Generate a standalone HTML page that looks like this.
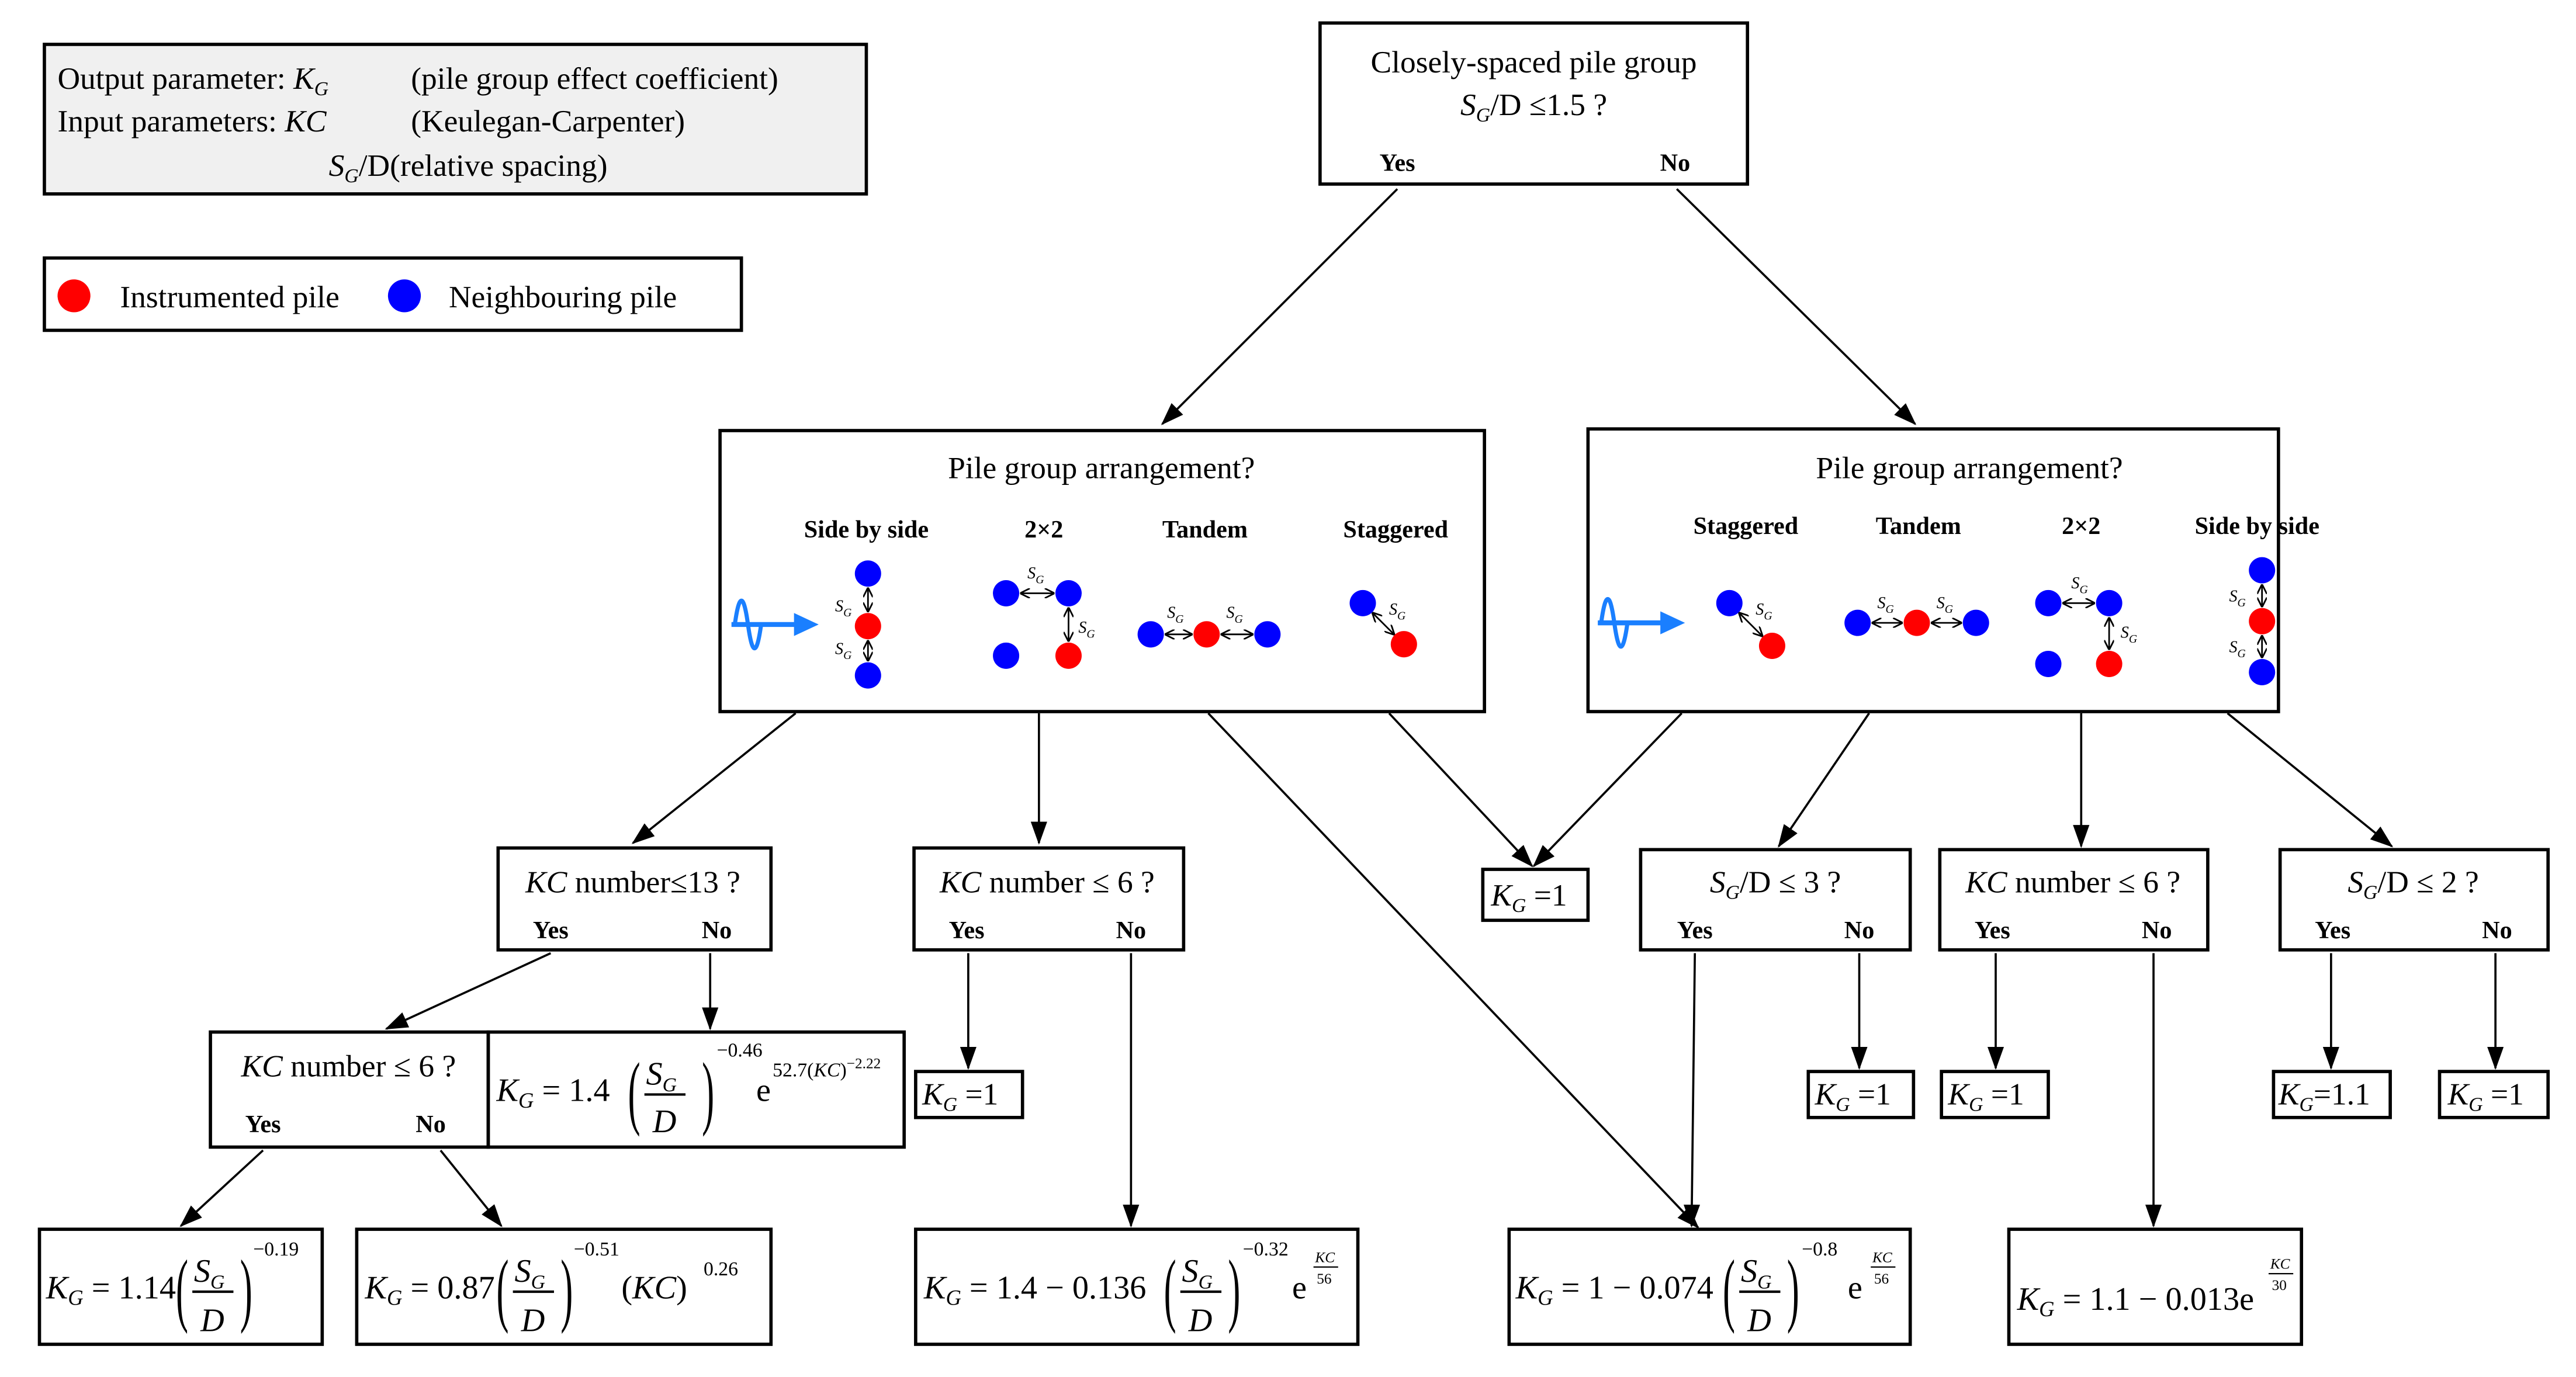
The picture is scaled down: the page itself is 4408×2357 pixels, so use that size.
<!DOCTYPE html>
<html><head><meta charset="utf-8"><style>
html,body{margin:0;padding:0;background:#fff}
svg{display:block}
svg text{font-family:"Liberation Serif","DejaVu Serif",serif;fill:#000}
.b{font-weight:bold}
.i{font-style:italic}
</style></head><body>
<svg width="4408" height="2357" viewBox="0 0 1567 837.9" preserveAspectRatio="none" xmlns="http://www.w3.org/2000/svg" font-family="Liberation Serif, serif">
<defs>
<marker id="a" markerUnits="userSpaceOnUse" markerWidth="14" markerHeight="10" refX="13" refY="5" orient="auto"><path d="M0,0 L14,5 L0,10 Z" fill="#000"/></marker>
<marker id="s" markerUnits="userSpaceOnUse" markerWidth="6" markerHeight="6" refX="5.5" refY="3" orient="auto-start-reverse"><path d="M0,0 L6,3 L0,6" fill="none" stroke="#000" stroke-width="1"/></marker>
<g id="wave"><path d="M0,17 L10,17 M2,17 Q6,-12 10,17 Q14,46 18,17" fill="none" stroke="#1a7fff" stroke-width="2.5"/><path d="M0,17 L40,17" stroke="#1a7fff" stroke-width="3"/><path d="M38,10 L53,17 L38,24 Z" fill="#1a7fff"/></g>
</defs>
<rect width="1567" height="837.9" fill="#fff"/>
<g fill="none" stroke="#000" stroke-width="2">
<rect x="27" y="27" width="500" height="91" fill="#f0f0f0"/>
<rect x="27" y="157" width="424" height="44"/>
<rect x="803" y="14" width="260" height="98"/>
<rect x="438" y="262" width="465" height="171"/>
<rect x="966" y="261" width="420" height="172"/>
<rect x="303" y="516" width="166" height="62"/>
<rect x="556" y="516" width="164" height="62"/>
<rect x="902" y="529" width="64" height="31"/>
<rect x="998" y="517" width="164" height="61"/>
<rect x="1180" y="517" width="163" height="61"/>
<rect x="1387" y="517" width="163" height="61"/>
<rect x="128" y="628" width="169" height="70"/>
<rect x="297" y="628" width="253" height="70"/>
<rect x="557" y="652" width="65" height="28"/>
<rect x="1100" y="652" width="64" height="28"/>
<rect x="1181" y="652" width="65" height="28"/>
<rect x="1383" y="652" width="71" height="28"/>
<rect x="1484" y="652" width="66" height="28"/>
<rect x="24" y="748" width="172" height="70"/>
<rect x="217" y="748" width="252" height="70"/>
<rect x="557" y="748" width="269" height="70"/>
<rect x="918" y="748" width="244" height="70"/>
<rect x="1222" y="748" width="178" height="70"/>
</g>
<g stroke="#000" stroke-width="1.3" marker-end="url(#a)">
<line x1="850" y1="115" x2="707" y2="258"/>
<line x1="1020" y1="115" x2="1165" y2="258"/>
<line x1="484" y1="434" x2="385" y2="513"/>
<line x1="632" y1="434" x2="632" y2="513"/>
<line x1="735" y1="434" x2="1033" y2="747"/>
<line x1="845" y1="434" x2="932" y2="527"/>
<line x1="1023" y1="434" x2="933" y2="527"/>
<line x1="1137" y1="434" x2="1082" y2="515"/>
<line x1="1266" y1="434" x2="1266" y2="515"/>
<line x1="1355" y1="434" x2="1455" y2="515"/>
<line x1="335" y1="580" x2="235" y2="626"/>
<line x1="432" y1="580" x2="432" y2="626"/>
<line x1="589" y1="580" x2="589" y2="650"/>
<line x1="688" y1="580" x2="688" y2="746"/>
<line x1="1031" y1="580" x2="1029" y2="746"/>
<line x1="1131" y1="580" x2="1131" y2="650"/>
<line x1="1214" y1="580" x2="1214" y2="650"/>
<line x1="1310" y1="580" x2="1310" y2="746"/>
<line x1="1418" y1="580" x2="1418" y2="650"/>
<line x1="1518" y1="580" x2="1518" y2="650"/>
<line x1="160" y1="700" x2="110" y2="746"/>
<line x1="268" y1="700" x2="305" y2="746"/>
</g>
<g font-size="19">
<text x="35" y="54">Output parameter: <tspan class="i">K</tspan><tspan class="i" font-size="12" dy="4">G</tspan><tspan dy="-4" x="250">(pile group effect coefficient)</tspan></text>
<text x="35" y="80">Input parameters: <tspan class="i">KC</tspan><tspan x="250">(Keulegan-Carpenter)</tspan></text>
<text x="200" y="107"><tspan class="i">S</tspan><tspan class="i" font-size="12" dy="4">G</tspan><tspan dy="-4">/D(relative spacing)</tspan></text>
<text x="73" y="187">Instrumented pile</text>
<text x="273" y="187">Neighbouring pile</text>
</g>
<circle cx="45" cy="180" r="10" fill="#f00"/>
<circle cx="246" cy="180" r="10" fill="#00f"/>
<text x="933" y="44" font-size="19" text-anchor="middle">Closely-spaced pile group</text>
<text x="933" y="70" font-size="19" text-anchor="middle"><tspan class="i">S</tspan><tspan class="i" font-size="12" dy="4">G</tspan><tspan dy="-4">/D ≤1.5 ?</tspan></text>
<text x="850" y="104" font-size="15" class="b" text-anchor="middle">Yes</text>
<text x="1019" y="104" font-size="15" class="b" text-anchor="middle">No</text>
<text x="670" y="291" font-size="19" text-anchor="middle">Pile group arrangement?</text>
<g font-size="15" class="b" text-anchor="middle">
<text x="527" y="327">Side by side</text><text x="635" y="327">2×2</text><text x="733" y="327">Tandem</text><text x="849" y="327">Staggered</text>
<text x="1062" y="325">Staggered</text><text x="1167" y="325">Tandem</text><text x="1266" y="325">2×2</text><text x="1373" y="325">Side by side</text>
</g>
<text x="1198" y="291" font-size="19" text-anchor="middle">Pile group arrangement?</text>
<use href="#wave" x="445" y="363"/>
<use href="#wave" x="972" y="362"/>
<g stroke="#000" stroke-width="1" marker-start="url(#s)" marker-end="url(#s)">
<line x1="528" y1="358" x2="528" y2="372"/><line x1="528" y1="390" x2="528" y2="402"/>
<line x1="621" y1="361" x2="641" y2="361"/><line x1="650" y1="370" x2="650" y2="390"/>
<line x1="709" y1="386" x2="725" y2="386"/><line x1="743" y1="386" x2="762" y2="386"/>
<line x1="835" y1="373" x2="848" y2="386"/>
<line x1="1058" y1="373" x2="1072" y2="387"/>
<line x1="1139" y1="379" x2="1157" y2="379"/><line x1="1175" y1="379" x2="1193" y2="379"/>
<line x1="1255" y1="367" x2="1274" y2="367"/><line x1="1283" y1="376" x2="1283" y2="395"/>
<line x1="1376" y1="356" x2="1376" y2="369"/><line x1="1376" y1="387" x2="1376" y2="400"/>
</g>
<g fill="#00f">
<circle cx="528" cy="349" r="8"/><circle cx="528" cy="411" r="8"/>
<circle cx="612" cy="361" r="8"/><circle cx="650" cy="361" r="8"/><circle cx="612" cy="399" r="8"/>
<circle cx="700" cy="386" r="8"/><circle cx="771" cy="386" r="8"/>
<circle cx="829" cy="367" r="8"/>
<circle cx="1052" cy="367" r="8"/>
<circle cx="1130" cy="379" r="8"/><circle cx="1202" cy="379" r="8"/>
<circle cx="1246" cy="367" r="8"/><circle cx="1283" cy="367" r="8"/><circle cx="1246" cy="404" r="8"/>
<circle cx="1376" cy="347" r="8"/><circle cx="1376" cy="409" r="8"/>
</g>
<g fill="#f00">
<circle cx="528" cy="381" r="8"/><circle cx="650" cy="399" r="8"/><circle cx="734" cy="386" r="8"/><circle cx="854" cy="392" r="8"/>
<circle cx="1078" cy="393" r="8"/><circle cx="1166" cy="379" r="8"/><circle cx="1283" cy="404" r="8"/><circle cx="1376" cy="378" r="8"/>
</g>
<g font-size="10" class="i">
<text x="508" y="372">S<tspan font-size="7" dy="3">G</tspan></text><text x="508" y="398">S<tspan font-size="7" dy="3">G</tspan></text>
<text x="625" y="352">S<tspan font-size="7" dy="3">G</tspan></text><text x="656" y="385">S<tspan font-size="7" dy="3">G</tspan></text>
<text x="710" y="376">S<tspan font-size="7" dy="3">G</tspan></text><text x="746" y="376">S<tspan font-size="7" dy="3">G</tspan></text>
<text x="845" y="374">S<tspan font-size="7" dy="3">G</tspan></text>
<text x="1068" y="374">S<tspan font-size="7" dy="3">G</tspan></text>
<text x="1142" y="370">S<tspan font-size="7" dy="3">G</tspan></text><text x="1178" y="370">S<tspan font-size="7" dy="3">G</tspan></text>
<text x="1260" y="358">S<tspan font-size="7" dy="3">G</tspan></text><text x="1290" y="388">S<tspan font-size="7" dy="3">G</tspan></text>
<text x="1356" y="366">S<tspan font-size="7" dy="3">G</tspan></text><text x="1356" y="397">S<tspan font-size="7" dy="3">G</tspan></text>
</g>
<g font-size="19" text-anchor="middle">
<text x="385" y="543"><tspan class="i">KC</tspan> number≤13 ?</text>
<text x="637" y="543"><tspan class="i">KC</tspan> number ≤ 6 ?</text>
<text x="1080" y="543"><tspan class="i">S</tspan><tspan class="i" font-size="12" dy="4">G</tspan><tspan dy="-4">/D ≤ 3 ?</tspan></text>
<text x="1261" y="543"><tspan class="i">KC</tspan> number ≤ 6 ?</text>
<text x="1468" y="543"><tspan class="i">S</tspan><tspan class="i" font-size="12" dy="4">G</tspan><tspan dy="-4">/D ≤ 2 ?</tspan></text>
<text x="212" y="655"><tspan class="i">KC</tspan> number ≤ 6 ?</text>
</g>
<g font-size="15" class="b" text-anchor="middle">
<text x="335" y="571">Yes</text><text x="436" y="571">No</text>
<text x="588" y="571">Yes</text><text x="688" y="571">No</text>
<text x="1031" y="571">Yes</text><text x="1131" y="571">No</text>
<text x="1212" y="571">Yes</text><text x="1312" y="571">No</text>
<text x="1419" y="571">Yes</text><text x="1519" y="571">No</text>
<text x="160" y="689">Yes</text><text x="262" y="689">No</text>
</g>
<g font-size="19">
<text x="907" y="551"><tspan class="i">K</tspan><tspan class="i" font-size="12" dy="4">G</tspan><tspan dy="-4"> =1</tspan></text>
<text x="561" y="672"><tspan class="i">K</tspan><tspan class="i" font-size="12" dy="4">G</tspan><tspan dy="-4"> =1</tspan></text>
<text x="1104" y="672"><tspan class="i">K</tspan><tspan class="i" font-size="12" dy="4">G</tspan><tspan dy="-4"> =1</tspan></text>
<text x="1185" y="672"><tspan class="i">K</tspan><tspan class="i" font-size="12" dy="4">G</tspan><tspan dy="-4"> =1</tspan></text>
<text x="1386" y="672"><tspan class="i">K</tspan><tspan class="i" font-size="12" dy="4">G</tspan><tspan dy="-4">=1.1</tspan></text>
<text x="1489" y="672"><tspan class="i">K</tspan><tspan class="i" font-size="12" dy="4">G</tspan><tspan dy="-4"> =1</tspan></text>
</g>
<g font-size="20">
<text x="302" y="670"><tspan class="i">K</tspan><tspan class="i" font-size="13" dy="4">G</tspan><tspan dy="-4"> = 1.4</tspan></text>
<text x="382" y="681" font-size="50" transform="translate(382 0) scale(0.45 1) translate(-382 0)">(</text>
<text x="427" y="681" font-size="50" transform="translate(427 0) scale(0.45 1) translate(-427 0)">)</text>
<text x="393" y="660" class="i">S<tspan font-size="12" dy="4">G</tspan></text>
<line x1="392" y1="666" x2="417" y2="666" stroke="#000" stroke-width="1.5"/>
<text x="397" y="689" class="i">D</text>
<text x="436" y="643" font-size="12">−0.46</text>
<text x="460" y="670">e</text>
<text x="470" y="655" font-size="12">52.7(<tspan class="i">KC</tspan>)<tspan font-size="9" dy="-5">−2.22</tspan></text>
<text x="28" y="790"><tspan class="i">K</tspan><tspan class="i" font-size="13" dy="4">G</tspan><tspan dy="-4"> = 1.14</tspan></text>
<text x="107" y="801" font-size="50" transform="translate(107 0) scale(0.45 1) translate(-107 0)">(</text>
<text x="146" y="801" font-size="50" transform="translate(146 0) scale(0.45 1) translate(-146 0)">)</text>
<text x="118" y="780" class="i">S<tspan font-size="12" dy="4">G</tspan></text>
<line x1="117" y1="786" x2="142" y2="786" stroke="#000" stroke-width="1.5"/>
<text x="122" y="810" class="i">D</text>
<text x="154" y="764" font-size="12">−0.19</text>
<text x="222" y="790"><tspan class="i">K</tspan><tspan class="i" font-size="13" dy="4">G</tspan><tspan dy="-4"> = 0.87</tspan></text>
<text x="302" y="801" font-size="50" transform="translate(302 0) scale(0.45 1) translate(-302 0)">(</text>
<text x="341" y="801" font-size="50" transform="translate(341 0) scale(0.45 1) translate(-341 0)">)</text>
<text x="313" y="780" class="i">S<tspan font-size="12" dy="4">G</tspan></text>
<line x1="312" y1="786" x2="337" y2="786" stroke="#000" stroke-width="1.5"/>
<text x="317" y="810" class="i">D</text>
<text x="349" y="764" font-size="12">−0.51</text>
<text x="378" y="790">(<tspan class="i">KC</tspan>)</text>
<text x="428" y="776" font-size="12">0.26</text>
<text x="562" y="790"><tspan class="i">K</tspan><tspan class="i" font-size="13" dy="4">G</tspan><tspan dy="-4"> = 1.4 − 0.136</tspan></text>
<text x="708" y="801" font-size="50" transform="translate(708 0) scale(0.45 1) translate(-708 0)">(</text>
<text x="747" y="801" font-size="50" transform="translate(747 0) scale(0.45 1) translate(-747 0)">)</text>
<text x="719" y="780" class="i">S<tspan font-size="12" dy="4">G</tspan></text>
<line x1="718" y1="786" x2="743" y2="786" stroke="#000" stroke-width="1.5"/>
<text x="723" y="810" class="i">D</text>
<text x="756" y="764" font-size="12">−0.32</text>
<text x="786" y="790">e</text>
<text x="800" y="768" font-size="9" class="i">KC</text>
<line x1="799" y1="771" x2="814" y2="771" stroke="#000" stroke-width="0.8"/>
<text x="801" y="781" font-size="9">56</text>
<text x="922" y="790"><tspan class="i">K</tspan><tspan class="i" font-size="13" dy="4">G</tspan><tspan dy="-4"> = 1 − 0.074</tspan></text>
<text x="1048" y="801" font-size="50" transform="translate(1048 0) scale(0.45 1) translate(-1048 0)">(</text>
<text x="1087" y="801" font-size="50" transform="translate(1087 0) scale(0.45 1) translate(-1087 0)">)</text>
<text x="1059" y="780" class="i">S<tspan font-size="12" dy="4">G</tspan></text>
<line x1="1058" y1="786" x2="1083" y2="786" stroke="#000" stroke-width="1.5"/>
<text x="1063" y="810" class="i">D</text>
<text x="1096" y="764" font-size="12">−0.8</text>
<text x="1124" y="790">e</text>
<text x="1139" y="768" font-size="9" class="i">KC</text>
<line x1="1138" y1="771" x2="1153" y2="771" stroke="#000" stroke-width="0.8"/>
<text x="1140" y="781" font-size="9">56</text>
<text x="1227" y="797"><tspan class="i">K</tspan><tspan class="i" font-size="13" dy="4">G</tspan><tspan dy="-4"> = 1.1 − 0.013e</tspan></text>
<text x="1381" y="772" font-size="9" class="i">KC</text>
<line x1="1380" y1="775" x2="1395" y2="775" stroke="#000" stroke-width="0.8"/>
<text x="1382" y="785" font-size="9">30</text>
</g>
</svg>
</body></html>
